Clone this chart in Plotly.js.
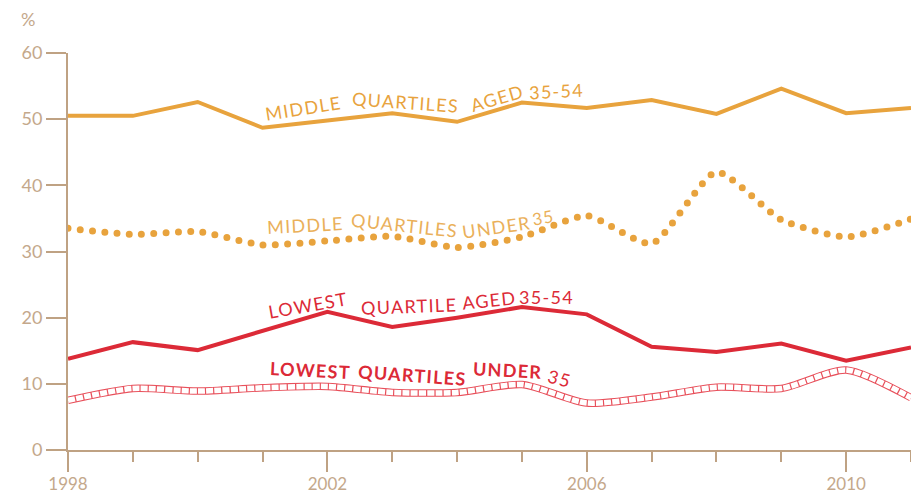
<!DOCTYPE html>
<html><head><meta charset="utf-8">
<script src="https://cdn.plot.ly/plotly-3.0.1.min.js"></script>
<style>
html,body{margin:0;padding:0;background:#fff}
#chart{width:911px;height:495px}
.annotation-text{letter-spacing:1.3px}
</style>
</head><body><div id="chart"></div>
<script>
const years = [1998,1999,2000,2001,2002,2003,2004,2005,2006,2007,2008,2009,2010,2011];
const middleAged35to54 = [50.5,50.5,52.6,48.7,49.8,50.9,49.6,52.5,51.7,52.9,50.8,54.6,50.9,51.7];
const middleUnder35    = [33.5,32.6,33.0,31.0,31.6,32.3,30.6,32.2,35.4,31.2,42.0,34.8,32.2,34.9];
const lowestAged35to54 = [13.8,16.3,15.1,18.0,20.9,18.6,20.0,21.6,20.5,15.6,14.8,16.1,13.5,15.5];
const lowestUnder35    = [7.5,9.3,8.9,9.4,9.6,8.7,8.7,9.9,7.1,8.0,9.5,9.3,12.1,7.9];
const xTickYears = [1998,2002,2006,2010];
const yTicks = [0,10,20,30,40,50,60];

const label1 = ["MIDDLE","QUARTILES","AGED","35-54"];
const label2 = ["MIDDLE","QUARTILES","UNDER","35"];
const label3 = ["LOWEST","QUARTILE","AGED","35-54"];
const label4 = ["LOWEST","QUARTILES","UNDER","35"];

const ORANGE = '#e8a33d', RED = '#dc2a37', AXIS = '#bfa283', TICKTXT = '#c4a88b';
const FONT = 'Lato, "Open Sans", sans-serif';

// pixel -> data helper for label placement
const L = 68, R = 911, T = 53, B = 450;
const px = (x, y) => ({x: 1998 + (x - L) / ((R - L) / 13), y: (B - y) / ((B - T) / 60)});

function words(list, pos, angles, color, size, boldMask) {
  return list.map((w, i) => {
    const p = px(pos[i][0], pos[i][1]);
    return {x: p.x, y: p.y, xref: 'x', yref: 'y', text: boldMask[i] ? '<b>' + w + '</b>' : w,
      showarrow: false, textangle: angles[i], xanchor: 'center', yanchor: 'middle',
      font: {family: FONT, size: size[i], color: color}};
  });
}

const annotations = [].concat(
  words(label1, [[303,108],[405,102],[497,98],[556,91]], [-9,4,-16,-3], ORANGE, [18,18,18,18], [0,0,0,0]),
  words(label2, [[305,225],[404,225],[496,227],[543,217]], [-3,6,-8,-10], '#eab05a', [18,18,18,17], [0,0,0,0]),
  words(label3, [[308,305],[409,306],[489,300],[546,297]], [-10,-2,-6,0], RED, [18,18,18,18], [0,0,0,0]),
  words(label4, [[310,370],[412,375],[507,370],[559,378]], [3,4,3,15], RED, [18,18,18,18], [1,1,1,0]),
  [{x: (29 - L) / (R - L), y: (B - 19) / (B - T), xref: 'paper', yref: 'paper', text: '%',
    xanchor: 'center', yanchor: 'middle',
    showarrow: false, font: {family: FONT, size: 18, color: TICKTXT}}]
);

const traces = [
  {x: years, y: middleAged35to54, mode: 'lines', line: {color: ORANGE, width: 4}},
  {x: years, y: middleUnder35, mode: 'lines', line: {color: ORANGE, width: 7, dash: '0px,12.3px', shape: 'spline', smoothing: 0.6}},
  {x: years, y: lowestAged35to54, mode: 'lines', line: {color: RED, width: 4}},
  {x: years, y: lowestUnder35, mode: 'lines', line: {color: '#e8505b', width: 7.5, shape: 'spline', smoothing: 0.7}},
  {x: years, y: lowestUnder35, mode: 'lines', line: {color: '#ffffff', width: 5.5, dash: '7px,1.2px', shape: 'spline', smoothing: 0.7}}
];

const layout = {
  width: 911, height: 495,
  margin: {l: L, r: 911 - R, t: T, b: 495 - B},
  paper_bgcolor: '#fff', plot_bgcolor: '#fff',
  showlegend: false,
  font: {family: FONT, color: TICKTXT, size: 17},
  xaxis: {range: [1998, 2011], tickmode: 'array', tickvals: xTickYears, ticktext: xTickYears.map(String),
    showgrid: false, zeroline: false, showline: true, linecolor: AXIS, linewidth: 2,
    ticks: 'outside', ticklen: 20, tickwidth: 2, tickcolor: AXIS, ticklabelstandoff: -2,
    tickfont: {family: FONT, size: 17, color: TICKTXT},
    minor: {dtick: 1, tick0: 1998, ticks: 'outside', ticklen: 10, tickwidth: 2, tickcolor: AXIS}},
  yaxis: {range: [0, 60], tickmode: 'array', tickvals: yTicks, ticktext: yTicks.map(String),
    showgrid: false, zeroline: false, showline: true, linecolor: AXIS, linewidth: 2,
    ticks: 'outside', ticklen: 20, tickwidth: 2, tickcolor: AXIS,
    tickfont: {family: FONT, size: 18, color: TICKTXT}},
  annotations: annotations
};

Plotly.newPlot('chart', traces, layout, {displayModeBar: false, staticPlot: true}).then(() => {
  const tr = document.querySelectorAll('.scatterlayer .trace');
  if (tr[1]) { const p = tr[1].querySelector('path.js-line'); if (p) p.style.strokeLinecap = 'round'; }
});
</script>
</body></html>
